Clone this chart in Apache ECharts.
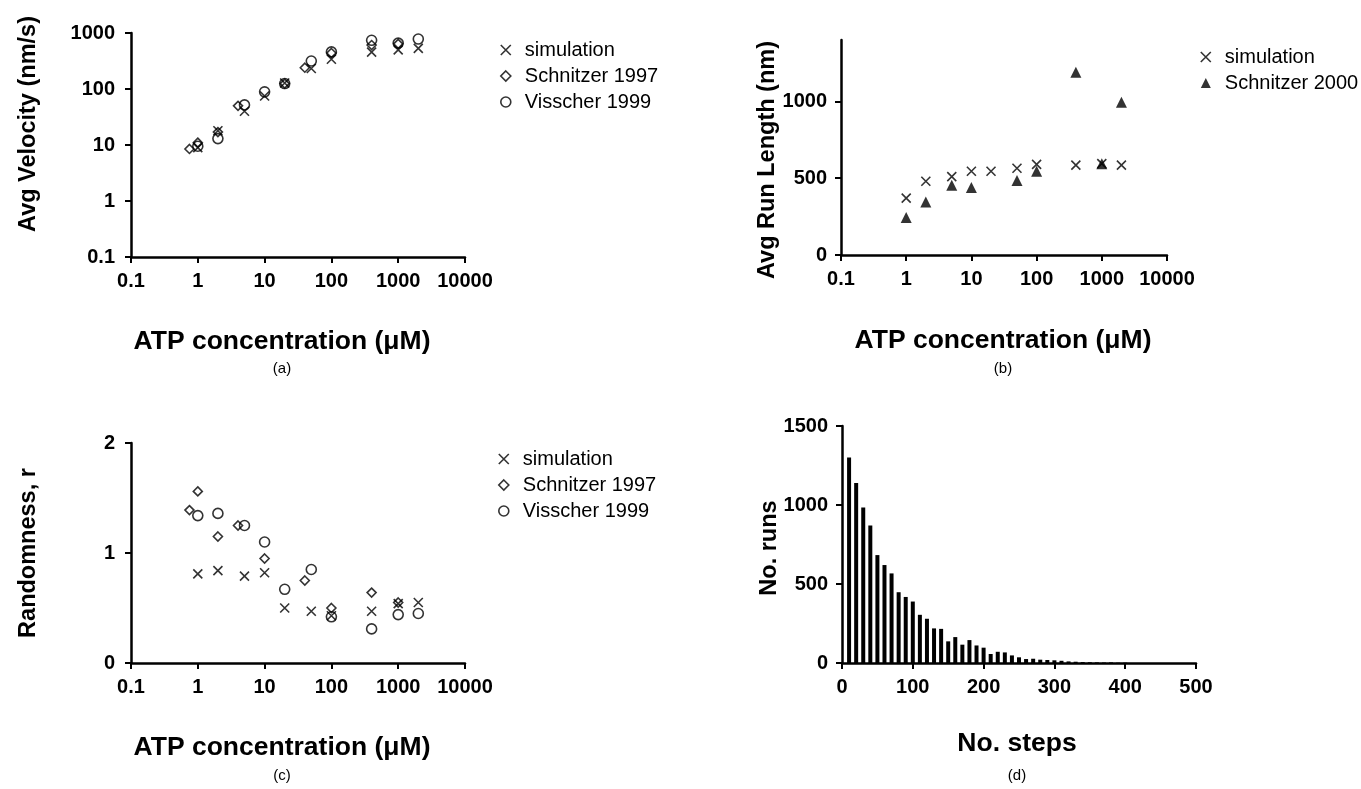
<!DOCTYPE html>
<html><head><meta charset="utf-8">
<script src="https://cdn.jsdelivr.net/npm/echarts@6/dist/echarts.min.js"></script>
<style>html,body{margin:0;padding:0;background:#fff}#c{width:1361px;height:789px}</style>
</head><body><div id="c"></div>
<script>
// ---- Data ----
// (a) Average velocity vs ATP
const atpSimA = [1, 2, 5, 10, 20, 50, 100, 400, 1000, 2000];
const velSim = [9, 18, 40, 75, 128, 232, 340, 455, 500, 530];
const atpSch97A = [0.75, 1, 2, 4, 20, 40, 100, 400, 1000];
const velSch97 = [8.5, 11, 17, 50, 125, 240, 440, 610, 640];
const atpVisA = [1, 2, 5, 10, 20, 50, 100, 400, 1000, 2000];
const velVis = [9.5, 13, 52, 89, 125, 316, 460, 740, 660, 780];
// (b) Run length
const atpSimB = [1, 2, 5, 10, 20, 50, 100, 400, 1000, 2000];
const runSim = [370, 480, 510, 545, 545, 565, 590, 585, 595, 585];
const atpSch00 = [1, 2, 5, 10, 50, 100, 400, 1000, 2000];
const runSch00 = [245, 345, 455, 440, 485, 545, 1190, 595, 995];
// (c) Randomness
const atpSimC = [1, 2, 5, 10, 20, 50, 100, 400, 1000, 2000];
const rndSim = [0.81, 0.84, 0.79, 0.82, 0.50, 0.47, 0.43, 0.47, 0.54, 0.55];
const atpSch97C = [0.75, 1, 2, 4, 10, 40, 100, 400, 1000];
const rndSch97 = [1.39, 1.56, 1.15, 1.25, 0.95, 0.75, 0.50, 0.64, 0.55];
const atpVisC = [1, 2, 5, 10, 20, 50, 100, 400, 1000, 2000];
const rndVis = [1.34, 1.36, 1.25, 1.10, 0.67, 0.85, 0.42, 0.31, 0.44, 0.45];
// (d) Histogram of run length in steps
const steps = [10,20,30,40,50,60,70,80,90,100,110,120,130,140,150,160,170,180,190,200,
               210,220,230,240,250,260,270,280,290,300,310,320,330,340,350,360,370,380,390,400];
const runs = [1300,1139,984,870,683,620,567,448,418,389,305,280,219,216,137,164,116,145,111,97,
              57,71,67,48,36,25,27,21,19,17,14,10,8,6,5,4,3,4,2,2];
// tick values for panel (b) y axis
const runTicks = [0, 500, 1000];

const zip = (xs, ys) => xs.map((x, i) => [x, ys[i]]);

const FONT = "'Liberation Sans', Arial, Helvetica, sans-serif";
const BLK = '#000';
const X_SYM = 'path://M0,0L10,10M10,0L0,10';
const TICK_FS = 20;

function fmtNum(v) { return String(Number(Number(v).toPrecision(6))); }

function axisCommon(extra, margin) {
  return Object.assign({
    axisLine: { show: true, onZero: false, lineStyle: { color: BLK, width: 2.5 } },
    axisTick: { show: true, inside: false, length: 6, lineStyle: { color: BLK, width: 2 } },
    axisLabel: { color: BLK, fontFamily: FONT, fontWeight: 'bold', fontSize: TICK_FS, margin: margin, formatter: fmtNum },
    splitLine: { show: false }
  }, extra);
}

const sXStyle = { color: 'rgba(0,0,0,0)', borderColor: BLK, borderWidth: 1.6 };
const sHollow = { color: 'rgba(0,0,0,0)', borderColor: BLK, borderWidth: 1.6 };

const grids = [
  { left: 131, top: 33, width: 334, height: 224 },
  { left: 841, top: 40, width: 326, height: 215 },
  { left: 131, top: 443, width: 334, height: 220 },
  { left: 842, top: 426, width: 354, height: 237 }
].map(g => Object.assign({ outerBoundsMode: 'none', containLabel: false }, g));

const xAxes = [
  axisCommon({ type: 'log', logBase: 10, min: 0.1, max: 10000, gridIndex: 0 }, 14),
  axisCommon({ type: 'log', logBase: 10, min: 0.1, max: 10000, gridIndex: 1 }, 14),
  axisCommon({ type: 'log', logBase: 10, min: 0.1, max: 10000, gridIndex: 2 }, 14),
  axisCommon({ type: 'value', min: 0, max: 500, interval: 100, gridIndex: 3 }, 14)
];
const yAxes = [
  axisCommon({ type: 'log', logBase: 10, min: 0.1, max: 1000, gridIndex: 0 }, 16),
  axisCommon({ type: 'value', min: 0, max: 1400, interval: 500, gridIndex: 1,
    axisTick: { show: true, length: 6, lineStyle: { color: BLK, width: 2 }, customValues: runTicks },
    axisLabel: { color: BLK, fontFamily: FONT, fontWeight: 'bold', fontSize: TICK_FS, margin: 14,
                 customValues: runTicks, formatter: fmtNum } }, 14),
  axisCommon({ type: 'value', min: 0, max: 2, interval: 1, gridIndex: 2 }, 16),
  axisCommon({ type: 'value', min: 0, max: 1500, interval: 500, gridIndex: 3 }, 14)
];

function scatter(name, idx, data, symbol, size, style) {
  return { type: 'scatter', name, xAxisIndex: idx, yAxisIndex: idx, data, symbol, symbolSize: size,
           itemStyle: style, emphasis: { disabled: true }, silent: true, z: 3 };
}

const series = [
  scatter('simulation', 0, zip(atpSimA, velSim), X_SYM, 9, sXStyle),
  scatter('Schnitzer 1997', 0, zip(atpSch97A, velSch97), 'diamond', 9, sHollow),
  scatter('Visscher 1999', 0, zip(atpVisA, velVis), 'circle', 10, sHollow),
  scatter('simulation', 1, zip(atpSimB, runSim), X_SYM, 9, sXStyle),
  scatter('Schnitzer 2000', 1, zip(atpSch00, runSch00), 'triangle', 11, { color: BLK }),
  scatter('simulation', 2, zip(atpSimC, rndSim), X_SYM, 9, sXStyle),
  scatter('Schnitzer 1997', 2, zip(atpSch97C, rndSch97), 'diamond', 9, sHollow),
  scatter('Visscher 1999', 2, zip(atpVisC, rndVis), 'circle', 10, sHollow),
  { type: 'bar', name: 'runs', xAxisIndex: 3, yAxisIndex: 3, data: zip(steps, runs), barWidth: 4,
    itemStyle: { color: BLK }, silent: true }
];

function legend(left, top, names) {
  return { show: true, orient: 'vertical', left, top, data: names, itemWidth: 10, itemHeight: 10,
    itemGap: 6, selectedMode: false,
    itemStyle: { borderWidth: 1.6 },
    textStyle: { color: BLK, fontFamily: FONT, fontSize: 20, lineHeight: 20, padding: [0, 0, 0, 9] } };
}

function txt(x, y, text, size, bold, rot) {
  return { type: 'text', x, y, rotation: rot || 0, silent: true,
    style: { text, fontFamily: FONT, fontSize: size, fontWeight: bold ? 'bold' : 'normal', fill: BLK,
             align: 'center', verticalAlign: 'middle' } };
}

const graphics = [
  txt(29, 124, 'Avg Velocity (nm/s)', 23.5, true, Math.PI / 2),
  txt(282, 342, 'ATP concentration (\u03bcM)', 26.5, true),
  txt(282, 369, '(a)', 15, false),
  txt(768, 160, 'Avg Run Length (nm)', 23.5, true, Math.PI / 2),
  txt(1003, 341, 'ATP concentration (\u03bcM)', 26.5, true),
  txt(1003, 369, '(b)', 15, false),
  txt(29, 553, 'Randomness, r', 23.5, true, Math.PI / 2),
  txt(282, 748, 'ATP concentration (\u03bcM)', 26.5, true),
  txt(282, 776, '(c)', 15, false),
  txt(770, 548, 'No. runs', 23.5, true, Math.PI / 2),
  txt(1017, 744, 'No. steps', 26.5, true),
  txt(1017, 776, '(d)', 15, false)
];

const chart = echarts.init(document.getElementById('c'), null, { renderer: 'canvas' });
chart.setOption({
  backgroundColor: '#fff',
  animation: false,
  grid: grids,
  xAxis: xAxes,
  yAxis: yAxes,
  legend: [
    legend(495, 35, ['simulation', 'Schnitzer 1997', 'Visscher 1999']),
    legend(1195, 42, ['simulation', 'Schnitzer 2000']),
    legend(493, 444, ['simulation', 'Schnitzer 1997', 'Visscher 1999'])
  ],
  series,
  graphic: graphics
});
</script>
</body></html>
